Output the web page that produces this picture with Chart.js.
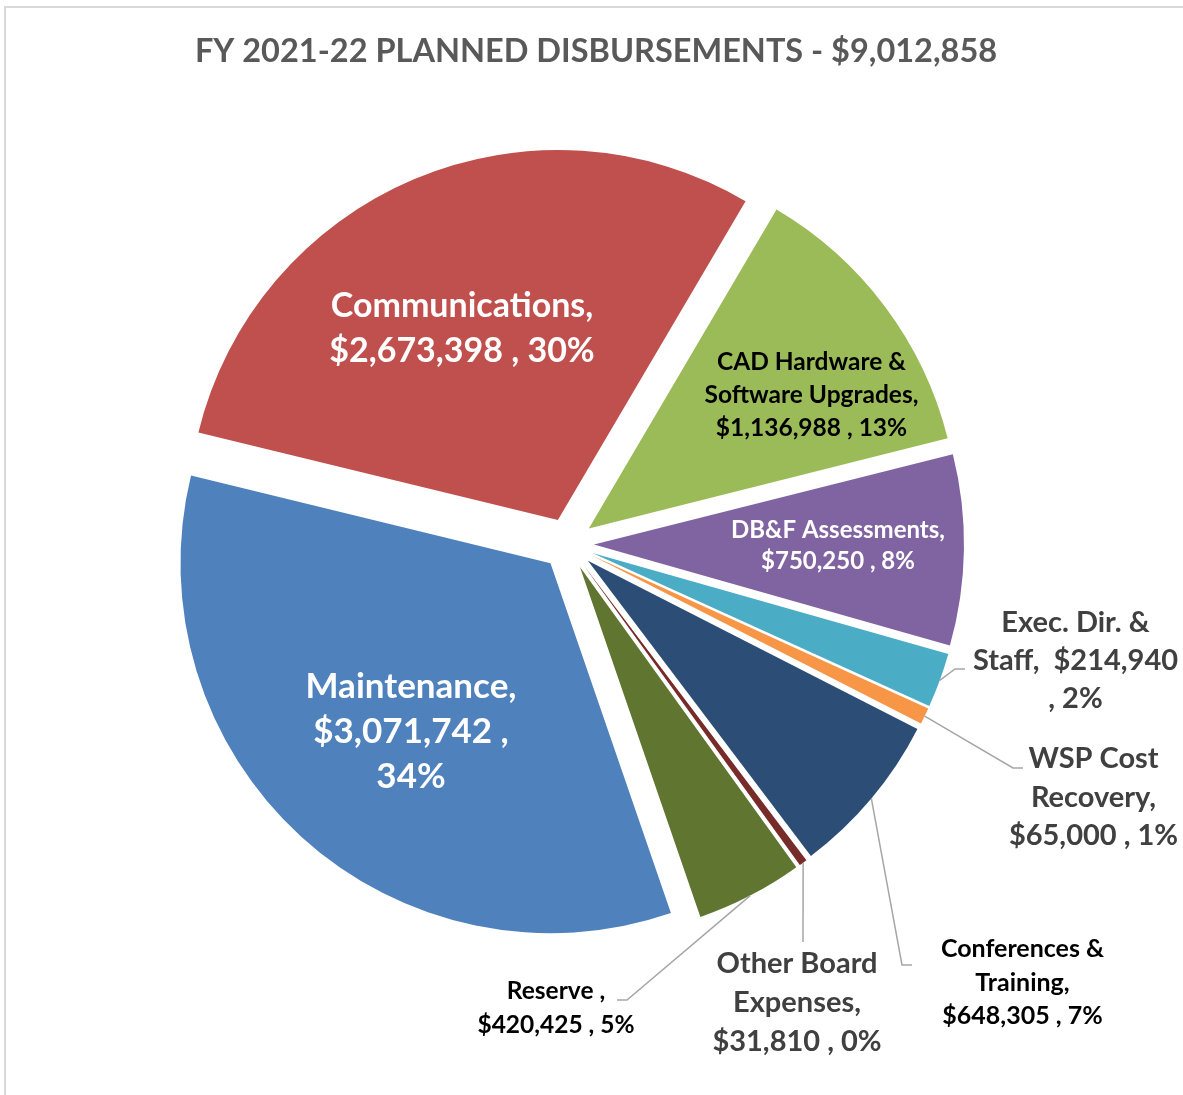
<!DOCTYPE html>
<html>
<head>
<meta charset="utf-8">
<script src="https://cdn.jsdelivr.net/npm/chart.js@4.4.1/dist/chart.umd.min.js"></script>
<style>
  html, body { margin: 0; padding: 0; background: #ffffff; }
  #wrap { position: relative; width: 1183px; height: 1095px; overflow: hidden; }
  #frame { position: absolute; left: 4px; top: 6px; width: 1300px; height: 1200px;
           border-left: 2px solid #d9d9d9; border-top: 2px solid #d9d9d9; box-sizing: border-box; }
  canvas { position: absolute; left: 0; top: 0; }
</style>
</head>
<body>
<div id="wrap">
  <div id="frame"></div>
  <canvas id="c" width="1183" height="1095"></canvas>
</div>
<script>
// ---------------- data ----------------
const TITLE = "FY 2021-22 PLANNED DISBURSEMENTS - $9,012,858";
const categories = [
  "Communications",
  "CAD Hardware & Software Upgrades",
  "DB&F Assessments",
  "Exec. Dir. & Staff",
  "WSP Cost Recovery",
  "Conferences & Training",
  "Other Board Expenses",
  "Reserve",
  "Maintenance"
];
const amounts = [2673398, 1136988, 750250, 214940, 65000, 648305, 31810, 420425, 3071742];
const colors = ["#C0504D", "#9BBB59", "#8064A2", "#4BACC6", "#F79646", "#2C4D75", "#772C2A", "#5F7530", "#4F81BD"];
// label text templates ({v} = amount, {p} = percent)
const labelLines = [
  ["Communications,", "{v} , {p}"],
  ["CAD Hardware &", "Software Upgrades,", "{v} , {p}"],
  ["DB&F Assessments,", "{v} , {p}"],
  ["Exec. Dir. &", "Staff,  {v}", ", {p}"],
  ["WSP Cost", "Recovery,", "{v} , {p}"],
  ["Conferences &", "Training,", "{v} , {p}"],
  ["Other Board", "Expenses,", "{v} , {p}"],
  ["Reserve ,", "{v} , {p}"],
  ["Maintenance,", "{v} ,", "{p}"]
];

// ---------------- style / layout ----------------
const FONT = "Lato, 'Open Sans', sans-serif";
const EXPLODE = 26;
const RADIUS = 370;
const ROTATION = -76.3;
const labelStyle = [
  { dx: -106,  dy: -227, lh: 45,   size: 34,   color: "#ffffff" },
  { dx: 243.5, dy: -174, lh: 33,   size: 24.5, color: "#000000" },
  { dx: 270,   dy: -6,   lh: 31,   size: 24,   color: "#ffffff" },
  { dx: 507.5, dy: 88,   lh: 38,   size: 29,   color: "#404040", leader: [[387, 125], [397, 125]] },
  { dx: 525.5, dy: 224,  lh: 38.5, size: 29,   color: "#404040", leader: [[445, 224], [455, 224]] },
  { dx: 454.5, dy: 413,  lh: 33.7, size: 25,   color: "#000000", leader: [[334, 421], [344, 421]] },
  { dx: 229,   dy: 429,  lh: 39,   size: 29,   color: "#404040", leader: [[235, 398]] },
  { dx: -12,   dy: 455,  lh: 34,   size: 24.5, color: "#000000", leader: [[59, 456], [49, 456]] },
  { dx: -157,  dy: 154,  lh: 45,   size: 35,   color: "#ffffff" }
];

// explode slices: translate each arc outward along its mid-angle
const ArcEl = Chart.ArcElement || Chart.registry.getElement('arc');
const baseArcDraw = ArcEl.prototype.draw;
ArcEl.prototype.draw = function (ctx) {
  const half = (this.startAngle + this.endAngle) / 2;
  ctx.save();
  ctx.translate(Math.cos(half) * EXPLODE, Math.sin(half) * EXPLODE);
  baseArcDraw.call(this, ctx);
  ctx.restore();
};

const total = amounts.reduce((a, b) => a + b, 0);
const fmtMoney = v => "$" + v.toLocaleString("en-US");
const fmtPct = v => Math.round(v / total * 100) + "%";

const labelPlugin = {
  id: "sliceLabels",
  afterDraw(chart) {
    const ctx = chart.ctx;
    const meta = chart.getDatasetMeta(0);
    // title
    ctx.save();
    ctx.font = "bold 32.5px " + FONT;
    ctx.fillStyle = "#595959";
    ctx.textAlign = "center";
    ctx.textBaseline = "alphabetic";
    ctx.fillText(TITLE, 596, 62);
    ctx.restore();

    meta.data.forEach((arc, i) => {
      const st = labelStyle[i];
      const cx = arc.x, cy = arc.y;
      const half = (arc.startAngle + arc.endAngle) / 2;
      const ox = cx + Math.cos(half) * EXPLODE;
      const oy = cy + Math.sin(half) * EXPLODE;
      ctx.save();
      if (st.leader) {
        ctx.beginPath();
        ctx.moveTo(ox + Math.cos(half) * arc.outerRadius, oy + Math.sin(half) * arc.outerRadius);
        st.leader.forEach(p => ctx.lineTo(cx + p[0], cy + p[1]));
        ctx.strokeStyle = "#a6a6a6";
        ctx.lineWidth = 1.5;
        ctx.stroke();
      }
      ctx.font = "bold " + st.size + "px " + FONT;
      ctx.fillStyle = st.color;
      ctx.textAlign = "center";
      ctx.textBaseline = "alphabetic";
      labelLines[i].forEach((t, j) => {
        const txt = t.replace("{v}", fmtMoney(amounts[i])).replace("{p}", fmtPct(amounts[i]));
        ctx.fillText(txt, cx + st.dx, cy + st.dy + j * st.lh);
      });
      ctx.restore();
    });
  }
};

new Chart(document.getElementById("c"), {
  type: "pie",
  data: {
    labels: categories,
    datasets: [{
      data: amounts,
      backgroundColor: colors,
      borderWidth: 0,
      radius: RADIUS
    }]
  },
  options: {
    responsive: false,
    animation: false,
    rotation: ROTATION,
    layout: { padding: { left: 0, right: 47, top: 0, bottom: 7 } },
    plugins: {
      legend: { display: false },
      title: { display: false },
      tooltip: { enabled: false }
    }
  },
  plugins: [labelPlugin]
});
</script>
</body>
</html>
